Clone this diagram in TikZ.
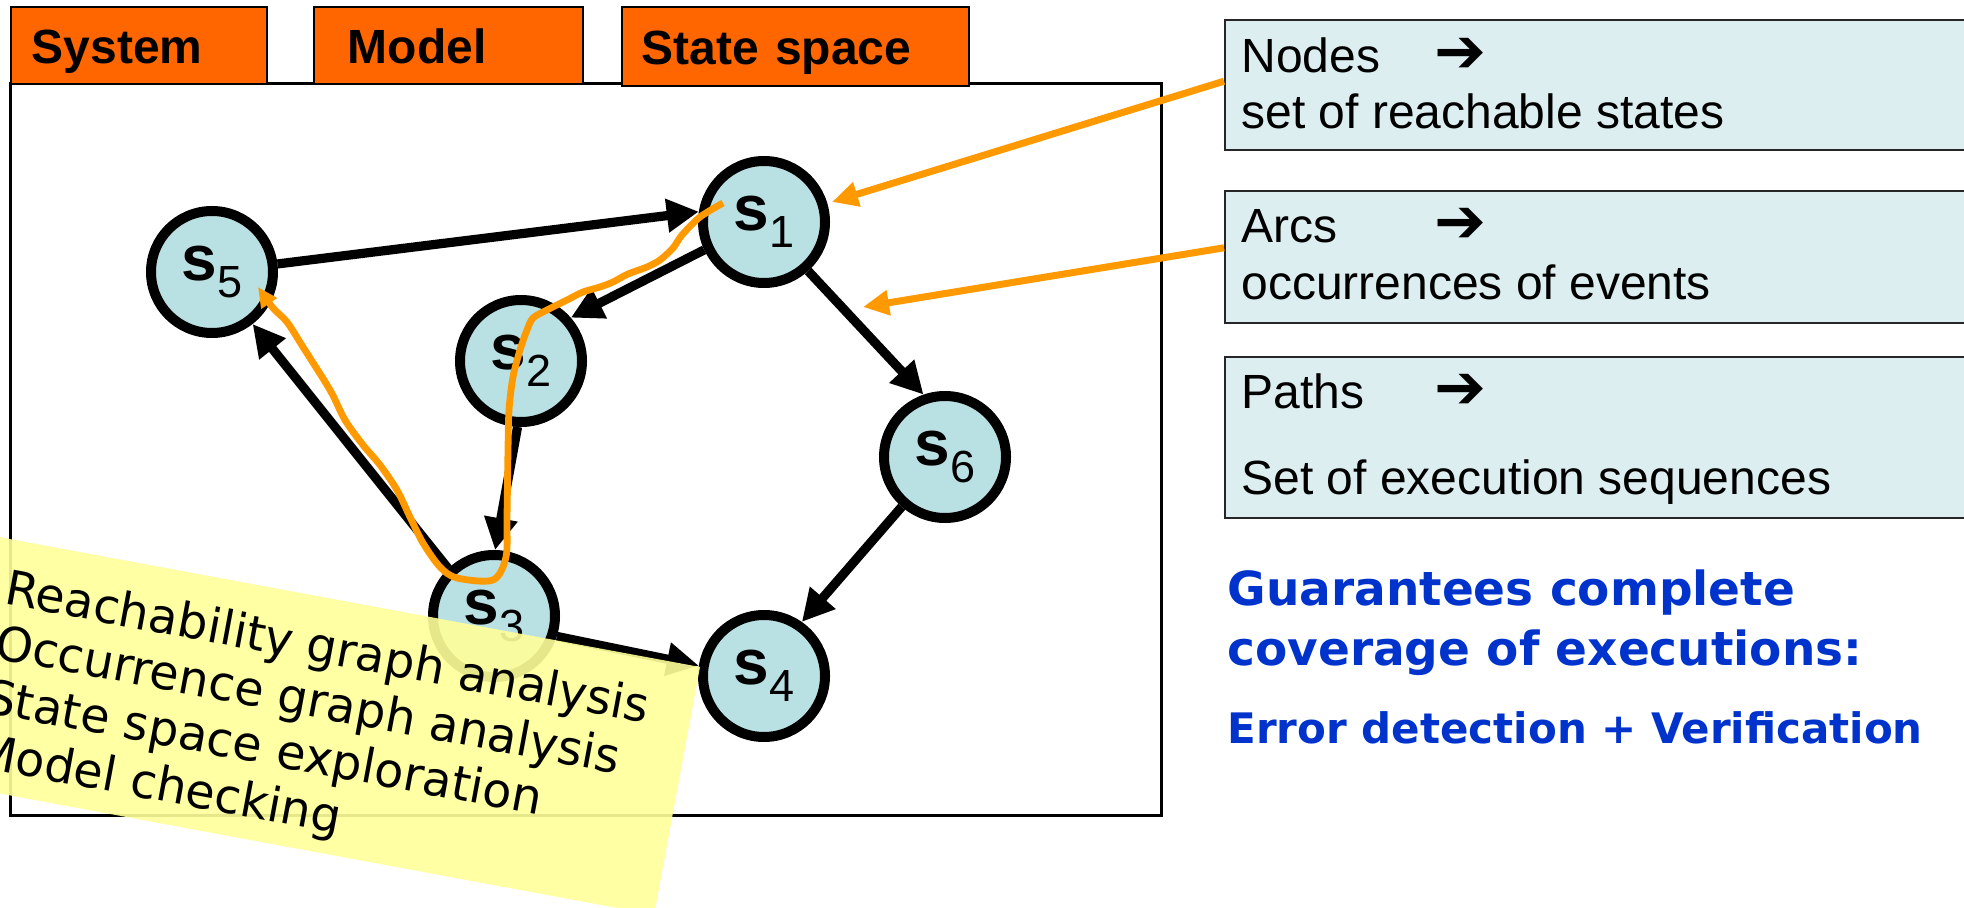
\documentclass[tikz,border=0pt]{standalone}
\usepackage{fontspec}
\setmainfont{Liberation Sans}
\newfontfamily\verd{DejaVu Sans}
\usetikzlibrary{arrows.meta,calc}

\definecolor{taborange}{HTML}{FF6600}
\definecolor{statefill}{HTML}{B9E0E3}
\definecolor{boxfill}{HTML}{DDEEF1}
\definecolor{hiorange}{HTML}{FF9900}
\definecolor{notey}{HTML}{FFFF99}
\definecolor{keyblue}{HTML}{0033CC}

% state label: bold "s" with a lowered plain index
\newcommand\statelabel[1]{{\fontsize{32}{32}\selectfont\bfseries s}{\fontsize{22.5}{22.5}\selectfont\raisebox{-8.5pt}{#1}}}

\begin{document}
\begin{tikzpicture}[x=0.5pt,y=-0.5pt,
  tab/.style={draw=black, line width=0.8pt, fill=taborange, anchor=north west,
    inner ysep=0pt, text height=20pt, text depth=1.5pt,
    font=\fontsize{24}{24}\selectfont\bfseries, align=left},
  state/.style={circle, draw=black, line width=5pt, fill=statefill,
    minimum size=61pt, inner sep=0pt},
  edge/.style={line width=4.6pt, -{Triangle[length=16pt,width=16pt]}},
  infobox/.style={draw=black!85, line width=1.2pt, fill=boxfill,
    anchor=north west, inner sep=0pt, minimum width=400pt},
  infotext/.style={anchor=base west, inner sep=0pt, font=\fontsize{24}{24}\selectfont},
  infoarrow/.style={anchor=base west, inner sep=0pt, font=\verd\fontsize{31}{31}\selectfont},
  pointer/.style={draw=hiorange, line width=3.5pt, -{Triangle[length=13pt,width=12pt]}},
  freehand/.style={draw=hiorange, line width=3.4pt, line join=round,
    -{Triangle[length=10pt,width=9pt]}},
  keytext/.style={anchor=base west, inner sep=0pt, text=keyblue,
    font=\verd\bfseries\fontsize{23.5}{23.5}\selectfont},
  notetext/.style={anchor=base west, inner sep=0pt, rotate=-10.5,
    font=\verd\fontsize{23.8}{23.8}\selectfont}
]
\useasboundingbox (0,0) rectangle (1964,908);
\clip (0,0) rectangle (1964,908);

% frame of the state space view
\draw[line width=1.5pt] (10,84) rectangle (1161,815);

% tabs
\node[tab, minimum width=128pt, minimum height=38.5pt, inner xsep=10.5pt, text width=107pt] (tsys) at (10,6) {System};
\node[tab, minimum width=134.5pt, minimum height=38.5pt, inner xsep=17pt, text width=100.5pt] (tmod) at (313,6) {Model};
\node[tab, minimum width=173.5pt, minimum height=39.5pt, inner xsep=10pt, text width=153.5pt] (tss) at (621,6) {State space};

% states
\node[state] (s1) at (764,222) {\statelabel{1}};
\node[state] (s5) at (212,272) {\statelabel{5}};
\node[state] (s2) at (521,361) {\statelabel{2}};
\node[state] (s6) at (945,457) {\statelabel{6}};
\node[state] (s3) at (494,616) {\statelabel{3}};
\node[state] (s4) at (764,676) {\statelabel{4}};

% arcs
\draw[edge] (s5.7) -- (s1.171.5);
\draw[edge] (s1.-155) -- (s2.41);
\draw[edge] (s2.-93) -- (s3.89);
\draw[edge] (s3.134) -- (s5.-52);
\draw[edge] (s1.-48) -- (s6.109);
\draw[edge] (s6.-131) -- (s4.55);
\draw[edge] (s3.-18) -- (s4.171);

% explanation boxes
\node[infobox, minimum height=65pt] (box1) at (1224,19) {};
\node[infobox, minimum height=66pt] (box2) at (1224,190) {};
\node[infobox, minimum height=80.5pt] (box3) at (1224,356) {};

\node[infotext] (b1a) at (1241,73) {Nodes};
\node[infoarrow] (b1r) at (1434,73) {➔};
\node[infotext] (b1b) at (1241,129) {set of reachable states};
\node[infotext] (b2a) at (1241,243) {Arcs};
\node[infoarrow] (b2r) at (1434,243) {➔};
\node[infotext] (b2b) at (1241,300) {occurrences of events};
\node[infotext] (b3a) at (1241,409) {Paths};
\node[infoarrow] (b3r) at (1434,409) {➔};
\node[infotext] (b3b) at (1241,495) {Set of execution sequences};

% pointers from the boxes into the graph
\coordinate (tipA) at (832,202);
\coordinate (tipB) at (863,307);
\draw[pointer] ($(box1.north west)!0.47!(box1.south west)$) -- (tipA);
\draw[pointer] ($(box2.north west)!0.43!(box2.south west)$) -- (tipB);

% a path through the graph: s1 -> s2 -> s3 -> s5
\draw[freehand] plot[smooth, tension=0.5] coordinates {(723,203) (700,217) (682,235) (673,248) (660,260) (647,267) (628,274) (613,282) (600,287) (583,292) (567,300) (547,310) (533,318) (527,330) (520,350) (513,377) (509,410) (508,450) (507,517) (506,557) (493,580) (457,578) (440,567) (423,543) (410,517) (397,490) (380,465) (363,445) (345,420) (330,390) (303,347) (287,322) (273,308) (258,287)};

% summary
\node[keytext] (g1) at (1227,605) {Guarantees complete};
\node[keytext] (g2) at (1227,665) {coverage of executions:};
\node[keytext, font=\verd\bfseries\fontsize{21}{21}\selectfont] (g3) at (1227,743) {Error detection + Verification};

% sticky note
\begin{scope}[shift={(700,667)}, rotate=-10.5]
  \fill[notey, fill opacity=0.9] (0,0) rectangle (-950,252);
  \node[notetext] (n1) at (-697,65) {Reachability graph analysis};
  \node[notetext] (n2) at (-697,120) {Occurrence graph analysis};
  \node[notetext] (n3) at (-697,175) {State space exploration};
  \node[notetext] (n4) at (-697,230) {Model checking};
\end{scope}
\end{tikzpicture}
\end{document}
